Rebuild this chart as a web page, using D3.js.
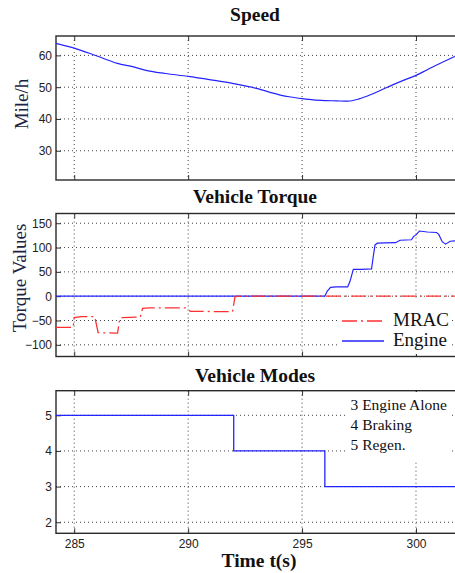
<!DOCTYPE html>
<html>
<head>
<meta charset="utf-8">
<script src="https://cdn.jsdelivr.net/npm/d3@7"></script>
<style>
  html, body { margin: 0; padding: 0; background: #fff; }
  svg { display: block; }
  .tick text { font-family: "Liberation Sans Narrow", "Liberation Sans", Arial, sans-serif; font-size: 12px; fill: #222; }
  .title { font-family: "Liberation Serif", "Times New Roman", serif; font-weight: bold; font-size: 19.5px; fill: #111; }
  .ylab { font-family: "Liberation Serif", "Times New Roman", serif; font-size: 19px; fill: #1a2344; }
  .note { font-family: "Liberation Serif", "Times New Roman", serif; fill: #111; }
</style>
</head>
<body>
<svg id="chart" width="455" height="573"></svg>
<script>
// ---- time axis ----
const timeDomain = [284.2, 301.8];
const timeTicks = [285, 290, 295, 300];

// ---- speed (mile/h) ----
const speedTime  = [284.2, 285, 286, 286.9, 287.6, 288.2, 289, 290, 291, 292, 293, 294, 294.5, 295, 295.5, 296, 296.5, 297, 297.5, 298, 298.5, 299, 299.5, 300, 300.5, 301, 301.8];
const speedValue = [63.8, 62.3, 59.8, 57.5, 56.4, 55.2, 54.3, 53.4, 52.3, 51.1, 49.6, 47.6, 46.9, 46.4, 46.0, 45.8, 45.7, 45.6, 46.3, 47.6, 49.2, 50.8, 52.3, 53.7, 55.5, 57.3, 60.0];
const speedTicks = [30, 40, 50, 60];
const speedDomain = [20.8, 66.1];

// ---- torque ----
const engineTime  = [284.2, 296.0, 296.1, 296.25, 296.5, 297.0, 297.1, 297.25, 297.6, 298.05, 298.12, 298.2, 298.3, 299.1, 299.3, 299.8, 299.9, 300.0, 300.15, 300.5, 300.9, 301.0, 301.15, 301.3, 301.5, 301.8];
const engineValue = [0, 0, 10, 18, 19, 19, 30, 55, 55, 56, 80, 105, 109, 110, 115, 116, 123, 126, 134, 132, 131, 127, 112, 107, 113, 114];
const mracTime  = [284.2, 284.95, 285.0, 285.3, 285.9, 286.05, 286.9, 287.0, 287.1, 287.9, 288.0, 288.3, 289.9, 290.1, 291.95, 292.05, 292.15, 301.8];
const mracValue = [-64, -64, -44, -42, -42, -75, -76, -46, -44, -43, -25, -24, -24, -31, -32, -2, 0, 0];
const torqueTicks = [-100, -50, 0, 50, 100, 150];
const torqueDomain = [-124, 170];
const torqueSeries = ["MRAC", "Engine"];

// ---- operating mode ----
const modeTime  = [284.2, 292, 296, 301.8];
const modeValue = [5, 4, 3, 3];
const modeTicks = [2, 3, 4, 5];
const modeDomain = [1.69, 5.69];
const modeNotes = ["3 Engine Alone", "4 Braking", "5 Regen."];

const svg = d3.select("#chart");
const left = 56, right = 457;
const x = d3.scaleLinear().domain(timeDomain).range([left, right]);

const BLUE = "#2323ff", RED = "#ff3030";

function panel(id, top, bottom, yDomain, yTicks, showXLabels) {
  const y = d3.scaleLinear().domain(yDomain).range([bottom, top]);
  const g = svg.append("g");
  g.append("clipPath").attr("id", "clip-" + id)
    .append("rect").attr("x", left).attr("y", top).attr("width", right - left).attr("height", bottom - top);

  // dotted grid
  g.append("g").selectAll("line").data(timeTicks).join("line")
    .attr("x1", d => x(d)).attr("x2", d => x(d)).attr("y1", top).attr("y2", bottom)
    .attr("stroke", "#444").attr("stroke-width", 1).attr("stroke-dasharray", "1,3");
  g.append("g").selectAll("line").data(yTicks).join("line")
    .attr("y1", d => y(d)).attr("y2", d => y(d)).attr("x1", left).attr("x2", right)
    .attr("stroke", "#444").attr("stroke-width", 1).attr("stroke-dasharray", "1,3");

  // axes with inward ticks
  const ax = g.append("g").attr("transform", `translate(0,${bottom})`)
    .call(d3.axisBottom(x).tickValues(timeTicks).tickSizeInner(-5).tickSizeOuter(0).tickPadding(6)
      .tickFormat(showXLabels ? d3.format("d") : () => ""));
  const axTop = g.append("g").attr("transform", `translate(0,${top})`)
    .call(d3.axisTop(x).tickValues(timeTicks).tickSizeInner(-5).tickSizeOuter(0).tickFormat(() => ""));
  const ay = g.append("g").attr("transform", `translate(${left},0)`)
    .call(d3.axisLeft(y).tickValues(yTicks).tickSizeInner(-5).tickSizeOuter(0).tickPadding(4)
      .tickFormat(d3.format("d")));
  [ax, axTop, ay].forEach(a => {
    a.select(".domain").remove();
    a.selectAll(".tick line").attr("stroke", "#333");
  });

  // frame
  g.append("rect").attr("x", left).attr("y", top).attr("width", right - left).attr("height", bottom - top)
    .attr("fill", "none").attr("stroke", "#2a2a2a").attr("stroke-width", 1.4);

  return { g, y, clip: "url(#clip-" + id + ")" };
}

// Speed panel
const p1 = panel("speed", 36, 180, speedDomain, speedTicks, false);
p1.g.append("path")
  .datum(d3.zip(speedTime, speedValue))
  .attr("clip-path", p1.clip)
  .attr("fill", "none").attr("stroke", BLUE).attr("stroke-width", 1.2)
  .attr("d", d3.line().x(d => x(d[0])).y(d => p1.y(d[1])).curve(d3.curveMonotoneX));

// Torque panel
const p2 = panel("torque", 213.5, 356.5, torqueDomain, torqueTicks, false);
const line2 = d3.line().x(d => x(d[0])).y(d => p2.y(d[1]));
p2.g.append("path")
  .datum(d3.zip(engineTime, engineValue))
  .attr("clip-path", p2.clip)
  .attr("fill", "none").attr("stroke", BLUE).attr("stroke-width", 1.2)
  .attr("d", line2);
p2.g.append("path")
  .datum(d3.zip(mracTime, mracValue))
  .attr("clip-path", p2.clip)
  .attr("fill", "none").attr("stroke", RED).attr("stroke-width", 1.3)
  .attr("stroke-dasharray", "15,4,2,4")
  .attr("d", line2);

// legend
const lg = p2.g.append("g");
lg.append("rect").attr("x", 338).attr("y", 298).attr("width", 114).attr("height", 56).attr("fill", "#fff");
const legendRows = [
  { name: torqueSeries[0], color: RED, dash: "15,4,2,4", y: 321 },
  { name: torqueSeries[1], color: BLUE, dash: null, y: 341 }
];
legendRows.forEach(r => {
  lg.append("line").attr("x1", 342).attr("x2", 384).attr("y1", r.y).attr("y2", r.y)
    .attr("stroke", r.color).attr("stroke-width", 1.3).attr("stroke-dasharray", r.dash);
  lg.append("text").attr("class", "note").attr("x", 393).attr("y", r.y + 4.5)
    .style("font-size", "19px").text(r.name);
});

// Mode panel
const p3 = panel("mode", 390.7, 533.3, modeDomain, modeTicks, true);
p3.g.append("path")
  .datum(d3.zip(modeTime, modeValue))
  .attr("clip-path", p3.clip)
  .attr("fill", "none").attr("stroke", BLUE).attr("stroke-width", 1.3)
  .attr("d", d3.line().x(d => x(d[0])).y(d => p3.y(d[1])).curve(d3.curveStepAfter));

const ng = p3.g.append("g");
ng.append("rect").attr("x", 348).attr("y", 392).attr("width", 103).attr("height", 68).attr("fill", "#fff");
modeNotes.forEach((t, i) => {
  ng.append("text").attr("class", "note").attr("x", 350.5).attr("y", 410 + i * 20.2)
    .style("font-size", "15.5px").text(t);
});

// Titles and axis labels
const titles = [["Speed", 20.7], ["Vehicle Torque", 203.3], ["Vehicle Modes", 381.7]];
titles.forEach(([t, yb]) => {
  svg.append("text").attr("class", "title").attr("x", 255).attr("y", yb)
    .attr("text-anchor", "middle").text(t);
});
svg.append("text").attr("class", "title").attr("x", 259).attr("y", 566.5)
  .attr("text-anchor", "middle").text("Time t(s)");

svg.append("text").attr("class", "ylab")
  .attr("transform", "translate(28,104) rotate(-90)")
  .attr("text-anchor", "middle").text("Mile/h");
svg.append("text").attr("class", "ylab")
  .attr("transform", "translate(26,278) rotate(-90)")
  .attr("text-anchor", "middle").text("Torque Values");
</script>
</body>
</html>
